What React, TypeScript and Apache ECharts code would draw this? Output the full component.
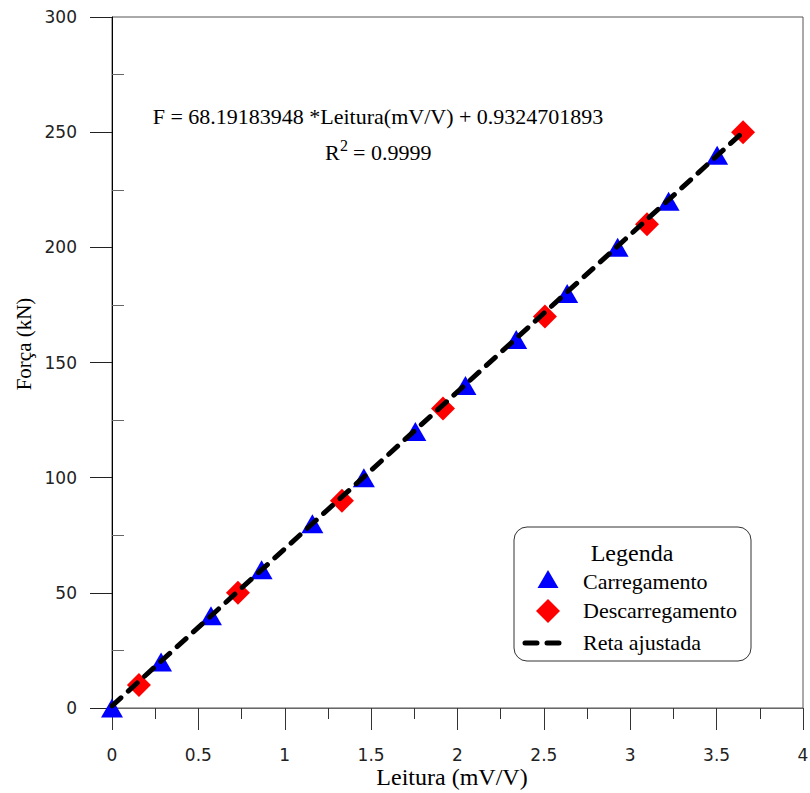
import React, { useEffect, useRef } from "react";
import * as echarts from "echarts";

// Data
const carregX = [0, 0.284, 0.573, 0.866, 1.16, 1.458, 1.756, 2.046, 2.34, 2.635, 2.927, 3.222, 3.503];
const carregY = [0, 20, 40, 60, 80, 100, 120, 140, 160, 180, 200, 220, 240];
const descX = [0.156, 0.729, 1.331, 1.916, 2.506, 3.097, 3.653];
const descY = [10, 50, 90, 130, 170, 210, 250];
const fitX = [0, 3.653];
const fitY = [0.93, 250.03];
const xTicks = { min: 0, max: 4, interval: 0.5 };
const yTicks = { min: 0, max: 300, interval: 50 };
const seriesNames = ["Carregamento", "Descarregamento", "Reta ajustada"];
const equationText = "F = 68.19183948 *Leitura(mV/V) + 0.9324701893";
const r2Text = "= 0.9999";

const SERIF = "'Liberation Serif', 'Times New Roman', serif";
const SANS = "'DejaVu Sans', sans-serif";

export default function App() {
  const ref = useRef<HTMLDivElement>(null);
  useEffect(() => {
    document.body.style.margin = "0";
    if (!ref.current) return;
    const chart = echarts.init(ref.current, null, { renderer: "svg" });
    const txt = (x: number, y: number, text: string, size: number, align = "left", family = SERIF, rotation = 0) => ({
      type: "text",
      x,
      y,
      z: 100,
      rotation,
      style: {
        text,
        font: `${size}px ${family}`,
        fill: "#000",
        textAlign: align,
        align,
        textVerticalAlign: "middle",
        verticalAlign: "middle",
      },
    });
    chart.setOption({
      animation: false,
      backgroundColor: "#fff",
      grid: {
        left: 112,
        right: 7,
        top: 17,
        bottom: 85,
        containLabel: false,
        outerBoundsMode: "none",
        show: true,
        borderColor: "#555",
        borderWidth: 1,
      },
      xAxis: {
        type: "value",
        min: xTicks.min,
        max: xTicks.max,
        interval: xTicks.interval,
        axisLine: { show: true, lineStyle: { color: "#666", width: 1 } },
        axisTick: { show: true, length: 22, lineStyle: { color: "#333" } },
        minorTick: { show: true, splitNumber: 2, length: 11, lineStyle: { color: "#333" } },
        splitLine: { show: false },
        minorSplitLine: { show: false },
        axisLabel: { fontFamily: SANS, fontSize: 17, color: "#222", margin: 38 },
      },
      yAxis: [
        {
          type: "value",
          position: "left",
          min: yTicks.min,
          max: yTicks.max,
          interval: yTicks.interval,
          axisLine: { show: true, lineStyle: { color: "#000", width: 1 } },
          axisTick: { show: true, length: 22, lineStyle: { color: "#222" } },
          splitLine: { show: false },
          axisLabel: { fontFamily: SANS, fontSize: 17, color: "#222", margin: 35 },
        },
        {
          type: "value",
          position: "left",
          min: yTicks.min,
          max: yTicks.max,
          interval: yTicks.interval,
          axisLine: { show: false },
          axisTick: { show: false, inside: true },
          minorTick: { show: true, splitNumber: 2, length: 12, lineStyle: { color: "#666" } },
          splitLine: { show: false },
          axisLabel: { show: false },
        },
      ],
      series: [
        {
          name: seriesNames[0],
          type: "scatter",
          symbol: "triangle",
          symbolSize: [22, 19],
          itemStyle: { color: "#0000ff", opacity: 1 },
          data: carregX.map((x, i) => [x, carregY[i]]),
          z: 3,
        },
        {
          name: seriesNames[1],
          type: "scatter",
          symbol: "diamond",
          symbolSize: 24,
          itemStyle: { color: "#ff0000", opacity: 1 },
          data: descX.map((x, i) => [x, descY[i]]),
          z: 3,
        },
        {
          name: seriesNames[2],
          type: "line",
          symbol: "none",
          lineStyle: { color: "#000", width: 5, type: [12, 10], cap: "round" },
          data: fitX.map((x, i) => [x, fitY[i]]),
          z: 5,
        },
      ],
      graphic: [
        txt(24, 344, "Força (kN)", 21, "center", SERIF, Math.PI / 2),
        txt(452, 777, "Leitura (mV/V)", 24, "center"),
        txt(378, 116, equationText, 22, "center"),
        txt(325, 152, "R", 22, "left"),
        txt(340, 145, "2", 16, "left"),
        txt(353, 152, r2Text, 22, "left"),
        {
          type: "rect",
          z: 90,
          shape: { x: 514, y: 527, width: 237, height: 134, r: 13 },
          style: { fill: "#fff", stroke: "#333", lineWidth: 1 },
        },
        txt(632, 553, "Legenda", 24, "center"),
        {
          type: "polygon",
          z: 100,
          shape: { points: [[548, 570], [537.5, 588], [558.5, 588]] },
          style: { fill: "#0000ff" },
        },
        txt(583, 581, seriesNames[0], 22, "left"),
        {
          type: "polygon",
          z: 100,
          shape: { points: [[548, 599], [560, 611], [548, 623], [536, 611]] },
          style: { fill: "#ff0000" },
        },
        txt(583, 610, seriesNames[1], 22, "left"),
        {
          type: "line",
          z: 100,
          shape: { x1: 525, y1: 643, x2: 559, y2: 643 },
          style: { stroke: "#000", lineWidth: 5, lineDash: [12, 10], lineCap: "round" },
        },
        txt(583, 642, seriesNames[2], 22, "left"),
      ],
    });
    return () => chart.dispose();
  }, []);
  return <div ref={ref} style={{ width: 810, height: 793 }} />;
}
